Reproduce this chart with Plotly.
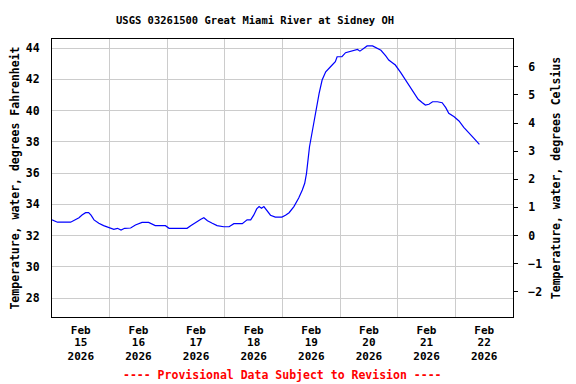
import plotly.graph_objects as go
import pandas as pd

# ---- data ----
times = [
    "2026-02-15 00:00", "2026-02-15 02:15", "2026-02-15 07:45", "2026-02-15 09:45",
    "2026-02-15 11:15", "2026-02-15 12:30", "2026-02-15 14:00", "2026-02-15 15:15",
    "2026-02-15 16:15", "2026-02-15 17:30", "2026-02-15 19:30", "2026-02-15 21:30",
    "2026-02-15 23:45", "2026-02-16 01:45", "2026-02-16 03:15", "2026-02-16 04:45",
    "2026-02-16 06:15", "2026-02-16 08:45", "2026-02-16 10:45", "2026-02-16 13:30",
    "2026-02-16 16:15", "2026-02-16 19:00", "2026-02-16 23:15", "2026-02-17 00:45",
    "2026-02-17 04:45", "2026-02-17 08:15", "2026-02-17 09:45", "2026-02-17 11:45",
    "2026-02-17 14:00", "2026-02-17 15:15", "2026-02-17 16:45", "2026-02-17 18:45",
    "2026-02-17 20:45", "2026-02-17 23:30", "2026-02-18 01:45", "2026-02-18 03:45",
    "2026-02-18 07:15", "2026-02-18 09:15", "2026-02-18 10:45", "2026-02-18 12:00",
    "2026-02-18 13:15", "2026-02-18 14:15", "2026-02-18 15:15", "2026-02-18 16:15",
    "2026-02-18 17:45", "2026-02-18 19:00", "2026-02-18 21:00", "2026-02-18 23:45",
    "2026-02-19 01:15", "2026-02-19 02:45", "2026-02-19 04:45", "2026-02-19 06:45",
    "2026-02-19 08:15", "2026-02-19 09:15", "2026-02-19 10:00", "2026-02-19 10:30",
    "2026-02-19 11:15", "2026-02-19 12:00", "2026-02-19 12:45", "2026-02-19 13:30",
    "2026-02-19 14:00", "2026-02-19 15:15", "2026-02-19 16:30", "2026-02-19 18:00",
    "2026-02-19 20:00", "2026-02-19 22:00", "2026-02-19 22:45", "2026-02-20 00:45",
    "2026-02-20 02:15", "2026-02-20 04:30", "2026-02-20 07:15", "2026-02-20 08:15",
    "2026-02-20 09:45", "2026-02-20 11:15", "2026-02-20 13:30", "2026-02-20 15:30",
    "2026-02-20 17:00", "2026-02-20 19:00", "2026-02-20 20:15", "2026-02-20 21:45",
    "2026-02-20 23:00", "2026-02-21 01:15", "2026-02-21 03:15", "2026-02-21 04:45",
    "2026-02-21 06:45", "2026-02-21 08:30", "2026-02-21 10:15", "2026-02-21 11:30",
    "2026-02-21 13:00", "2026-02-21 14:30", "2026-02-21 16:30", "2026-02-21 18:30",
    "2026-02-21 20:00", "2026-02-21 21:15", "2026-02-21 23:30", "2026-02-22 01:30",
    "2026-02-22 03:30", "2026-02-22 05:45", "2026-02-22 07:45", "2026-02-22 10:00",
]
temp_f = [
    33.0, 32.85, 32.85, 33.0,
    33.14, 33.31, 33.46, 33.46,
    33.3, 33.0, 32.78, 32.63,
    32.52, 32.4, 32.46, 32.35,
    32.46, 32.48, 32.67, 32.84,
    32.84, 32.63, 32.63, 32.46,
    32.46, 32.46, 32.63, 32.84,
    33.04, 33.14, 32.95, 32.78,
    32.63, 32.56, 32.56, 32.76,
    32.76, 33.0, 33.0, 33.3,
    33.7, 33.85, 33.74, 33.85,
    33.57, 33.3, 33.18, 33.18,
    33.3, 33.46, 33.85, 34.4,
    34.91, 35.34, 35.98, 36.83,
    37.68, 38.32, 38.96, 39.6,
    40.24, 41.1, 41.95, 42.48,
    42.8, 43.12, 43.44, 43.44,
    43.7, 43.8, 43.91, 43.8,
    43.98, 44.13, 44.13, 43.98,
    43.85, 43.5, 43.23, 43.06,
    42.91, 42.42, 41.95, 41.63,
    41.2, 40.72, 40.5, 40.35,
    40.4, 40.56, 40.56, 40.5,
    40.18, 39.82, 39.6, 39.33,
    38.92, 38.58, 38.22, 37.83,
]
day_label_dates = ["2026-02-15", "2026-02-16", "2026-02-17", "2026-02-18",
                   "2026-02-19", "2026-02-20", "2026-02-21", "2026-02-22"]
f_ticks = [28, 30, 32, 34, 36, 38, 40, 42, 44]
c_ticks = [-2, -1, 0, 1, 2, 3, 4, 5, 6]
title_text = "USGS 03261500 Great Miami River at Sidney OH"
footer_text = "---- Provisional Data Subject to Revision ----"
f_range = [26.784, 44.576]
x_range = ["2026-02-15 00:00", "2026-02-23 00:00"]

# ---- figure ----
FONT = "DejaVu Sans Mono"
x = pd.to_datetime(times)
label_pos = [pd.Timestamp(d) + pd.Timedelta(hours=12) for d in day_label_dates]
row_month = [pd.Timestamp(d).strftime("%b") for d in day_label_dates]
row_day = [str(pd.Timestamp(d).day) for d in day_label_dates]
row_year = [pd.Timestamp(d).strftime("%Y") for d in day_label_dates]
c_range = [(v - 32) / 1.8 for v in f_range]

fig = go.Figure()
fig.add_trace(go.Scatter(x=x, y=temp_f, mode="lines",
                         line=dict(color="#0000ff", width=1.2), showlegend=False,
                         hoverinfo="skip"))
# invisible traces to activate the extra axes
fig.add_trace(go.Scatter(x=[x[0]], y=[0], yaxis="y2", mode="markers",
                         marker=dict(opacity=0), showlegend=False, hoverinfo="skip"))
fig.add_trace(go.Scatter(x=[x[0]], y=[33], xaxis="x2", mode="markers",
                         marker=dict(opacity=0), showlegend=False, hoverinfo="skip"))
fig.add_trace(go.Scatter(x=[x[0]], y=[33], xaxis="x3", mode="markers",
                         marker=dict(opacity=0), showlegend=False, hoverinfo="skip"))

tickfont = dict(family=FONT, size=11.5, color="black", weight="bold")
xtickfont = dict(family=FONT, size=11, color="black", weight="bold")

def row_axis(text, standoff, overlay):
    d = dict(range=x_range, tickvals=label_pos, ticktext=text, tickfont=xtickfont,
             showgrid=False, ticks="", ticklabelstandoff=standoff, automargin=False,
             zeroline=False, showline=False)
    if overlay:
        d.update(overlaying="x", anchor="y", side="bottom")
    return d

xaxis = row_axis(row_month, 3, False)
xaxis.update(showline=True, linecolor="black", linewidth=1, mirror=True,
             minor=dict(tick0="2026-02-15", dtick=86400000, showgrid=True,
                        gridcolor="#cccccc", gridwidth=1, ticks=""))

# The page body adds an 8px offset; the figure is sized to fit the 576x384 window.
fig.update_layout(
    width=568, height=376,
    margin=dict(l=44, r=63, t=31, b=67, autoexpand=False),
    paper_bgcolor="white", plot_bgcolor="white",
    xaxis=xaxis,
    xaxis2=row_axis(row_day, 17, True),
    xaxis3=row_axis(row_year, 31, True),
    yaxis=dict(
        range=f_range, tickvals=f_ticks, tickfont=tickfont,
        showgrid=True, gridcolor="#cccccc", gridwidth=1,
        ticks="", ticklabelstandoff=9, automargin=False,
        showline=True, linecolor="black", linewidth=1, mirror=True,
        zeroline=False,
        title=dict(text="Temperature, water, degrees Fahrenheit",
                   font=dict(family=FONT, size=11.5, color="black", weight="bold"),
                   standoff=4),
    ),
    yaxis2=dict(
        range=c_range, tickvals=c_ticks, tickfont=tickfont, automargin=False,
        overlaying="y", side="right", showgrid=False, zeroline=False,
        ticks="outside", ticklen=4, tickcolor="black", ticklabelstandoff=8,
        showline=False,
        title=dict(text="Temperature, water, degrees Celsius",
                   font=dict(family=FONT, size=11.5, color="black", weight="bold"),
                   standoff=10),
    ),
    annotations=[
        dict(text=title_text, xref="paper", yref="paper", x=0.4414, y=1,
             yshift=19, xanchor="center", yanchor="middle", showarrow=False,
             font=dict(family=FONT, size=10.5, color="black", weight="bold")),
        dict(text=footer_text, xref="paper", yref="paper", x=0.5, y=0,
             yshift=-58, xanchor="center", yanchor="middle", showarrow=False,
             font=dict(family=FONT, size=11.5, color="red", weight="bold")),
    ],
)

fig.write_html("out.html")
